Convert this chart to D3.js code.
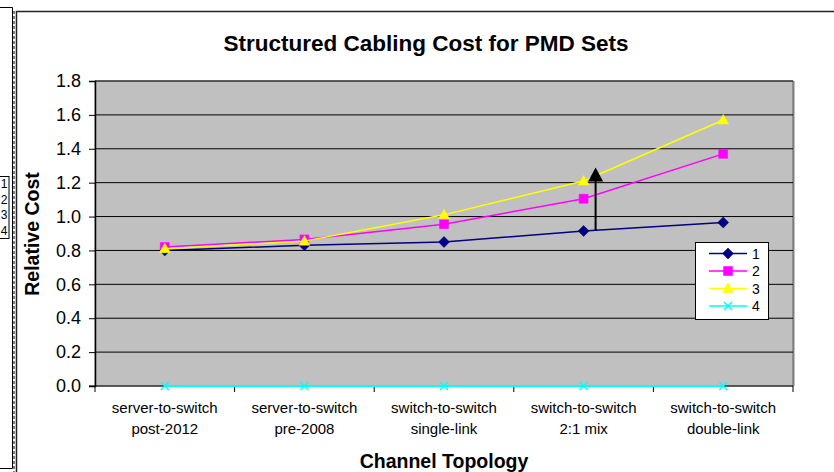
<!DOCTYPE html>
<html>
<head>
<meta charset="utf-8">
<script src="https://cdn.jsdelivr.net/npm/d3@7"></script>
<style>
  html, body { margin: 0; padding: 0; background: #fff; }
  svg { display: block; font-family: Arial, "Liberation Sans", sans-serif; }
</style>
</head>
<body>
<svg id="chart" width="834" height="472"></svg>
<script>
// Channel topologies along the x axis (two-line labels)
const categories = [
  ["server-to-switch", "post-2012"],
  ["server-to-switch", "pre-2008"],
  ["switch-to-switch", "single-link"],
  ["switch-to-switch", "2:1 mix"],
  ["switch-to-switch", "double-link"]
];
const seriesNames = ["1", "2", "3", "4"];
const series1 = [0.80, 0.83, 0.85, 0.915, 0.965];
const series2 = [0.82, 0.865, 0.955, 1.105, 1.37];
const series3 = [0.81, 0.855, 1.01, 1.21, 1.57];
const series4 = [0.0, 0.0, 0.0, 0.0, 0.0];
const yTicks = [0.0, 0.2, 0.4, 0.6, 0.8, 1.0, 1.2, 1.4, 1.6, 1.8];
// Annotation arrow at the 2:1 mix point: from series 1 level up
const arrowCategory = 3;
const arrowFrom = 0.915;
const arrowTo = 1.29;

const colors = ["#000080", "#FF00FF", "#FFFF00", "#00FFFF"];
// Marker outlines: diamond, square, triangle, cross
const markerPaths = [
  "M0,-5.5L5.5,0L0,5.5L-5.5,0Z",
  "M-4.5,-4.5H4.5V4.5H-4.5Z",
  "M0,-5.5L5.5,4L-5.5,4Z",
  "M-4,-4L4,4M4,-4L-4,4"
];

const svg = d3.select("#chart");

// Neighbouring chart frame on the far left
const left = svg.append("g");
left.append("path").attr("d", "M0,7.5 H12.5 V468.5 H0").attr("fill", "none").attr("stroke", "#000");
left.append("line").attr("x1", 14).attr("x2", 14).attr("y1", 11).attr("y2", 472)
  .attr("stroke", "#555").attr("stroke-dasharray", "3,2").attr("stroke-width", 1.5);
left.append("rect").attr("x", -20).attr("y", 176.5).attr("width", 29).attr("height", 62)
  .attr("fill", "#fff").attr("stroke", "#000");
seriesNames.forEach((t, i) => {
  left.append("text").attr("x", 7.5).attr("y", 188 + i * 15.5).attr("text-anchor", "end")
    .attr("font-size", 12).text(t);
});

// Main chart frame
svg.append("path").attr("d", "M16.5,472 V11.5 H834").attr("fill", "none")
  .attr("stroke", "#222").attr("stroke-width", 1.5);

const plot = { left: 95, right: 793, top: 81, bottom: 386 };
const x = d3.scaleBand().domain(d3.range(categories.length)).range([plot.left, plot.right]);
const y = d3.scaleLinear().domain([0, 1.8]).range([plot.bottom, plot.top]);
const cx = i => x(i) + x.bandwidth() / 2;

// Plot area
svg.append("rect").attr("x", plot.left).attr("y", plot.top)
  .attr("width", plot.right - plot.left).attr("height", plot.bottom - plot.top)
  .attr("fill", "#C0C0C0").attr("stroke", "#808080").attr("stroke-width", 1);
svg.append("line").attr("x1", plot.right + 0.5).attr("x2", plot.right + 0.5)
  .attr("y1", plot.top).attr("y2", plot.bottom).attr("stroke", "#808080").attr("stroke-width", 2);

// Horizontal gridlines
svg.append("g").selectAll("line").data(yTicks.filter(v => v > 0)).join("line")
  .attr("x1", plot.left).attr("x2", plot.right)
  .attr("y1", d => y(d)).attr("y2", d => y(d))
  .attr("stroke", "#000").attr("stroke-width", 1);

// Y axis
const yAxis = svg.append("g").attr("transform", `translate(${plot.left},0)`)
  .call(d3.axisLeft(y).tickValues(yTicks).tickFormat(d3.format(".1f")).tickSize(6).tickPadding(8));
yAxis.select(".domain").attr("stroke", "#000").attr("stroke-width", 1.5);
yAxis.selectAll("text").attr("font-size", 18).attr("fill", "#000")
  .attr("font-family", "Arial, 'Liberation Sans', sans-serif");

// X axis: line, boundary ticks and two-line labels
const xAxis = svg.append("g").attr("transform", `translate(0,${plot.bottom})`);
xAxis.append("line").attr("x1", plot.left - 6).attr("x2", plot.right)
  .attr("stroke", "#000").attr("stroke-width", 1);
const bounds = d3.range(categories.length).map(i => x(i)).concat([plot.right]);
xAxis.selectAll("line.tick").data(bounds).join("line").attr("class", "tick")
  .attr("x1", d => d).attr("x2", d => d).attr("y1", 0).attr("y2", 6)
  .attr("stroke", "#000");
const lbl = xAxis.selectAll("text.cat").data(categories).join("text").attr("class", "cat")
  .attr("text-anchor", "middle").attr("font-size", 15).attr("fill", "#000");
lbl.selectAll("tspan").data((d, i) => d.map(t => ({ t, i }))).join("tspan")
  .attr("x", d => cx(d.i)).attr("y", (d, j) => 27 + j * 21).text(d => d.t);

// Series lines and markers
const allSeries = [series1, series2, series3, series4];
const line = d3.line().x((d, i) => cx(i)).y(d => y(d));
// series 4 first along the baseline, then 1..3
[3, 0, 1, 2].forEach(s => {
  const g = svg.append("g");
  g.append("path").datum(allSeries[s]).attr("d", line)
    .attr("fill", "none").attr("stroke", colors[s]).attr("stroke-width", s === 3 ? 2 : 1.5);
  g.selectAll("path.m").data(allSeries[s]).join("path").attr("class", "m")
    .attr("transform", (d, i) => `translate(${cx(i)},${y(d)})`)
    .attr("d", markerPaths[s])
    .attr("fill", s === 3 ? "none" : colors[s])
    .attr("stroke", colors[s]).attr("stroke-width", s === 3 ? 1.5 : 0.5);
});

// Annotation arrow
const ax = cx(arrowCategory) + 12;
svg.append("line").attr("x1", ax).attr("x2", ax)
  .attr("y1", y(arrowFrom)).attr("y2", y(arrowTo) + 12)
  .attr("stroke", "#000").attr("stroke-width", 2);
svg.append("path")
  .attr("d", `M${ax},${y(arrowTo)} L${ax + 7.5},${y(arrowTo) + 14} L${ax - 7.5},${y(arrowTo) + 14} Z`)
  .attr("fill", "#000");

// Legend
const lg = svg.append("g").attr("transform", "translate(695,242)");
lg.append("rect").attr("x", 0.5).attr("y", 0.5).attr("width", 73).attr("height", 77)
  .attr("fill", "#fff").attr("stroke", "#000");
seriesNames.forEach((name, s) => {
  const yy = 11.5 + s * 17.5;
  lg.append("line").attr("x1", 14).attr("x2", 52).attr("y1", yy).attr("y2", yy)
    .attr("stroke", colors[s]).attr("stroke-width", 1.5);
  lg.append("path")
    .attr("transform", `translate(33,${yy})`)
    .attr("d", markerPaths[s])
    .attr("fill", s === 3 ? "none" : colors[s]).attr("stroke", colors[s])
    .attr("stroke-width", s === 3 ? 1.5 : 0.5);
  lg.append("text").attr("x", 57).attr("y", yy + 5).attr("font-size", 14).text(name);
});

// Titles
svg.append("text").attr("x", 426).attr("y", 51).attr("text-anchor", "middle")
  .attr("font-size", 22.5).attr("font-weight", "bold").text("Structured Cabling Cost for PMD Sets");
svg.append("text").attr("transform", "translate(39,234) rotate(-90)").attr("text-anchor", "middle")
  .attr("font-size", 19.5).attr("font-weight", "bold").text("Relative Cost");
svg.append("text").attr("x", 444).attr("y", 468).attr("text-anchor", "middle")
  .attr("font-size", 19.5).attr("font-weight", "bold").text("Channel Topology");
</script>
</body>
</html>
